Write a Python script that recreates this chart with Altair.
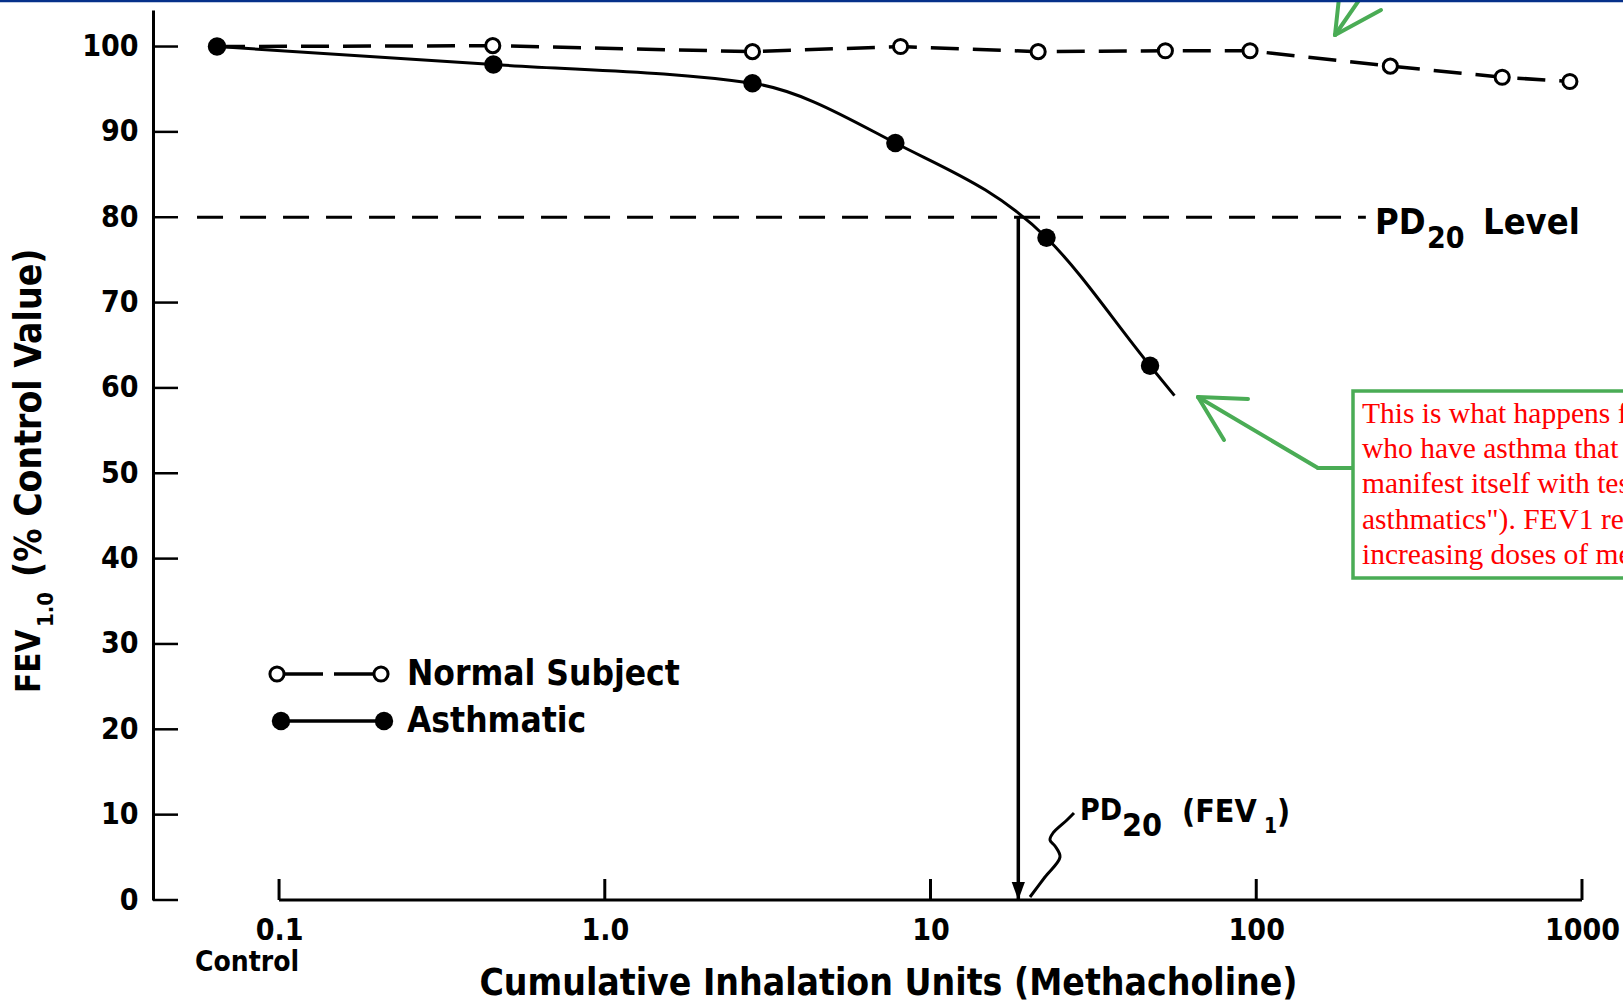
import altair as alt
import pandas as pd

# ---------------- data ----------------
series = ["Normal Subject", "Asthmatic"]

normal_dose = [0.0645, 0.453, 2.84, 8.09, 21.4, 52.6, 95.7, 258, 569, 918]
normal_fev = [100, 100.1, 99.4, 100, 99.4, 99.5, 99.5, 97.7, 96.4, 95.9]

asth_dose = [0.0645, 0.455, 2.84, 7.8, 22.7, 47.2]
asth_fev = [100, 97.9, 95.7, 88.7, 77.6, 62.6]
asth_curve_dose = [0.0645, 0.455, 2.84, 7.8, 22.7, 47.2, 56.1]
asth_curve_fev = [100, 97.9, 95.7, 88.7, 77.6, 62.6, 59.1]

pd20_level = 80
pd20_dose = 18.6
pd20_line_dose = [0.056, 217]

x_ticks = [0.1, 1, 10, 100, 1000]
x_tick_labels = ["0.1", "1.0", "10", "100", "1000"]
y_ticks = [0, 10, 20, 30, 40, 50, 60, 70, 80, 90, 100]

note_lines = [
    "This is what happens for people",
    "who have asthma that doesn't",
    "manifest itself with testing (\"occult",
    "asthmatics\"). FEV1 reduces with",
    "increasing doses of methacholine.",
]

# ---------------- styling ----------------
FONT = "DejaVu Sans Condensed, Liberation Sans Narrow, DejaVu Sans, sans-serif"
SERIF = "Liberation Serif, Times New Roman, serif"
GREEN = "#4aac55"
W, H = 1470, 890

X = alt.Scale(type="log", domain=[0.04102, 1336.4], nice=False)
Y = alt.Scale(domain=[0, 104.28], nice=False, zero=False)

label_expr = "[" + ",".join("'%s'" % s for s in x_tick_labels) + "][indexof([" + \
    ",".join(str(v) for v in x_ticks) + "], datum.value)]"

XAX = alt.Axis(values=x_ticks, labelExpr=label_expr, ticks=False, domain=False, grid=False,
               labelFont=FONT, labelFontSize=30, labelFontWeight="bold", labelColor="black",
               labelPadding=15, labelOverlap=False, labelFlush=False,
               title="Cumulative Inhalation Units (Methacholine)", titleFont=FONT,
               titleFontSize=37, titleFontWeight="bold", titleColor="black",
               titleY=83, titleBaseline="middle")
YAX = alt.Axis(values=y_ticks, ticks=False, domain=True, domainColor="black", domainWidth=3,
               grid=False, labelFont=FONT, labelFontSize=30, labelFontWeight="bold",
               labelColor="black", labelPadding=15, title=None)

ONE = alt.Data(values=[{"k": 0}])


def txt(text, x, y, size, angle=0, align="left", baseline="alphabetic", color="black",
        font=FONT, weight="bold", **kw):
    return alt.Chart(ONE).mark_text(text=text, align=align, baseline=baseline, fontSize=size,
                                    font=font, fontWeight=weight, color=color, angle=angle,
                                    **kw).encode(x=alt.value(x), y=alt.value(y))


def seg(x1, y1, x2, y2, color=GREEN, w=4, cap="round"):
    return alt.Chart(ONE).mark_rule(color=color, strokeWidth=w, strokeCap=cap).encode(
        x=alt.value(x1), y=alt.value(y1), x2=alt.value(x2), y2=alt.value(y2))


def dot(x, y, open_, size):
    if open_:
        m = alt.Chart(ONE).mark_point(shape="circle", filled=True, fill="white", stroke="black",
                                      strokeWidth=3, size=size, opacity=1)
    else:
        m = alt.Chart(ONE).mark_point(shape="circle", filled=True, color="black", size=size,
                                      opacity=1)
    return m.encode(x=alt.value(x), y=alt.value(y))


normal_df = pd.DataFrame({"dose": normal_dose, "fev": normal_fev})
asth_df = pd.DataFrame({"dose": asth_dose, "fev": asth_fev})
curve_df = pd.DataFrame({"dose": asth_curve_dose, "fev": asth_curve_fev})

xenc = alt.X("dose:Q", scale=X, axis=XAX)
yenc = alt.Y("fev:Q", scale=Y, axis=YAX)

OPEN_SIZE, FILL_SIZE = 200, 340

normal_line = alt.Chart(normal_df).mark_line(color="black", strokeWidth=3.5,
                                             strokeDash=[28, 14]).encode(x=xenc, y=yenc)
normal_pts = alt.Chart(normal_df).mark_point(shape="circle", filled=True, fill="white",
                                             stroke="black", strokeWidth=3, size=OPEN_SIZE,
                                             opacity=1).encode(x=xenc, y=yenc)
asth_line = alt.Chart(curve_df).mark_line(color="black", strokeWidth=3,
                                          interpolate="monotone").encode(x=xenc, y=yenc)
asth_pts = alt.Chart(asth_df).mark_point(shape="circle", filled=True, color="black",
                                         size=FILL_SIZE, opacity=1).encode(x=xenc, y=yenc)

# PD20 level dashed line
pd_df = pd.DataFrame({"x0": [pd20_line_dose[0]], "x1": [pd20_line_dose[1]], "fev": [pd20_level]})
pd_line = alt.Chart(pd_df).mark_rule(color="black", strokeWidth=3, strokeDash=[26, 17]).encode(
    x=alt.X("x0:Q", scale=X, axis=XAX), x2="x1:Q", y=alt.Y("fev:Q", scale=Y, axis=YAX))

# vertical arrow at PD20
arr_df = pd.DataFrame({"dose": [pd20_dose], "top": [pd20_level], "bot": [0]})
arr_line = alt.Chart(arr_df).mark_rule(color="black", strokeWidth=3.5).encode(
    x=alt.X("dose:Q", scale=X, axis=XAX), y=alt.Y("top:Q", scale=Y, axis=YAX), y2="bot:Q")
arr_head = alt.Chart(arr_df).mark_point(shape="M -0.55 -1.5 L 0.55 -1.5 L 0 0 Z", filled=True,
                                        color="black", size=576, opacity=1).encode(
    x=alt.X("dose:Q", scale=X, axis=XAX), y=alt.Y("bot:Q", scale=Y, axis=YAX))

# x axis line and inward ticks
xline_df = pd.DataFrame({"x0": [x_ticks[0]], "x1": [x_ticks[-1]], "fev": [0]})
x_line = alt.Chart(xline_df).mark_rule(color="black", strokeWidth=3).encode(
    x=alt.X("x0:Q", scale=X, axis=XAX), x2="x1:Q", y=alt.Y("fev:Q", scale=Y, axis=YAX))
x_tk = alt.Chart(pd.DataFrame({"dose": x_ticks})).mark_rule(color="black", strokeWidth=3).encode(
    x=alt.X("dose:Q", scale=X, axis=XAX), y=alt.value(H), y2=alt.value(H - 21))
y_tk = alt.Chart(pd.DataFrame({"fev": y_ticks})).mark_rule(color="black", strokeWidth=2.5).encode(
    y=alt.Y("fev:Q", scale=Y, axis=YAX), x=alt.value(0), x2=alt.value(25))

# legend key (drawn inside the plot like the original)
legend = [
    seg(132, 664, 170, 664, color="black", w=3.5, cap="butt"),
    seg(181, 664, 220, 664, color="black", w=3.5, cap="butt"),
    dot(124, 664, True, OPEN_SIZE), dot(228, 664, True, OPEN_SIZE),
    seg(128, 711, 231, 711, color="black", w=3.5, cap="butt"),
    dot(128, 711, False, FILL_SIZE), dot(231, 711, False, FILL_SIZE),
    txt(series[0], 254, 664, 35, baseline="middle"),
    txt(series[1], 254, 711, 35, baseline="middle"),
]

# squiggle leader for PD20(FEV1)
sq = pd.DataFrame({"i": list(range(8)),
                   "px": [877, 892, 907, 902, 897, 900, 914, 921],
                   "py": [887, 867, 847, 836, 830, 823, 810, 803]})
squiggle = alt.Chart(sq).mark_line(color="black", strokeWidth=3, interpolate="catmull-rom").encode(
    x=alt.X("px:Q", scale=None), y=alt.Y("py:Q", scale=None), order="i:Q")

texts = [
    # y axis title (rotated)
    txt("FEV", -123, 683, 33, angle=270, baseline="middle"),
    txt("1.0", -107, 617, 22, angle=270, baseline="middle"),
    txt("(% Control Value)", -123, 567, 37, angle=270, baseline="middle"),
    # control label
    txt("Control", 94, 953, 28, align="center", baseline="middle"),
    # PD20 level label
    txt("PD", 1222, 224, 36),
    txt("20", 1274, 238, 30),
    txt("Level", 1330, 224, 36),
    # PD20 (FEV1) label
    txt("PD", 927, 810, 30),
    txt("20", 969, 826, 32),
    txt("(FEV", 1029, 812, 32),
    txt("1", 1111, 823, 21),
    txt(")", 1124, 812, 32),
]

# green annotation box and arrows, blue slide border
box = alt.Chart(ONE).mark_rect(fill="white", stroke=GREEN, strokeWidth=3.5).encode(
    x=alt.value(1200), x2=alt.value(1700), y=alt.value(381), y2=alt.value(568))
note = alt.Chart(ONE).mark_text(text=note_lines, align="left", baseline="alphabetic",
                                font=SERIF, fontSize=29.5, color="#ff0000", lineHeight=35.2).encode(
    x=alt.value(1209), y=alt.value(413))
arrows = [
    seg(1199, 458, 1165, 458), seg(1165, 458, 1045, 387),
    seg(1045, 387, 1095, 389), seg(1045, 387, 1071, 430),
    seg(1182, 25, 1220, -30), seg(1182, 25, 1186, -12), seg(1182, 25, 1228, 0),
]
blue = seg(-160, -9, 1480, -9, color="#06308a", w=2.5)

chart = alt.layer(
    x_line, x_tk, y_tk, pd_line, arr_line, arr_head,
    normal_line, asth_line, normal_pts, asth_pts, squiggle,
    *legend, *texts, box, note, *arrows, blue,
).properties(
    width=W, height=H,
    padding={"left": 153, "top": 10, "right": 0, "bottom": 105},
    autosize=alt.AutoSizeParams(type="none"),
    background="white",
).configure_view(stroke=None)

chart.save("out.html", embed_options={"renderer": "svg", "actions": False})
